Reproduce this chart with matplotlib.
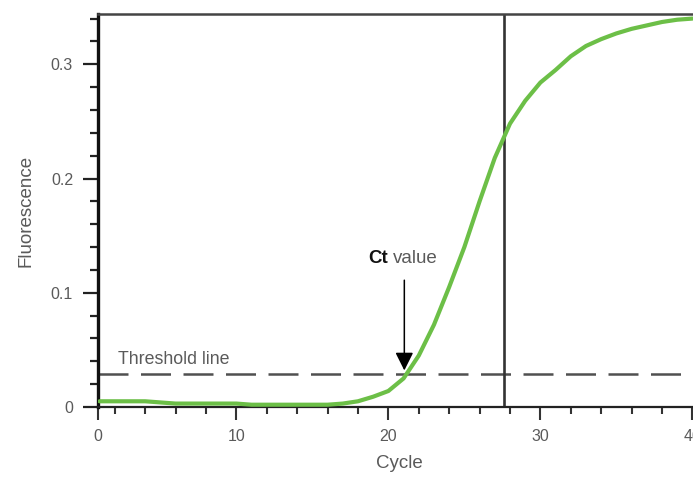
import matplotlib
matplotlib.use("Agg")
import matplotlib.pyplot as plt
from matplotlib.ticker import FixedLocator, FixedFormatter, MultipleLocator

plt.rcParams["font.family"] = ["Liberation Sans", "DejaVu Sans"]

# amplification curve
cycles = list(range(1, 41))
fluorescence = [
    0.005, 0.005, 0.005, 0.005, 0.004, 0.003, 0.003, 0.003, 0.003, 0.003,
    0.002, 0.002, 0.002, 0.002, 0.002, 0.002, 0.003, 0.005, 0.009, 0.014,
    0.025, 0.045, 0.072, 0.105, 0.140, 0.180, 0.218, 0.248, 0.268, 0.284,
    0.295, 0.307, 0.316, 0.322, 0.327, 0.331, 0.334, 0.337, 0.339, 0.340,
]
threshold = 0.029
ct_cycle = 21.05
marker_cycle = 27.6
x_ticks = [0.9, 10, 20, 30, 40]
x_tick_labels = ["0", "10", "20", "30", "40"]
y_ticks = [0, 0.1, 0.2, 0.3]
y_tick_labels = ["0", "0.1", "0.2", "0.3"]

GREEN = "#6cbf47"
GRAY_TEXT = "#5a5a5a"

fig = plt.figure(figsize=(6.93, 4.79), dpi=100)
ax = fig.add_axes([98 / 693, 72 / 479, 602 / 693, 393 / 479])

ax.plot(cycles, fluorescence, color=GREEN, lw=3.0, solid_capstyle="round",
        solid_joinstyle="round", zorder=3)

# threshold and marker lines
ax.axhline(threshold, color="#505050", lw=1.8, dashes=(12, 5), zorder=2)
ax.axvline(marker_cycle, color="#333333", lw=1.9, zorder=2)

ax.text(2.2, threshold + 0.005, "Threshold line", color=GRAY_TEXT, fontsize=12.8,
        va="bottom", ha="left")

ax.annotate("", xy=(ct_cycle, 0.032), xytext=(ct_cycle, 0.111),
            arrowprops=dict(arrowstyle="-|>,head_width=0.55,head_length=1.1",
                            color="black", lw=1.1, shrinkA=0, shrinkB=0))
ax.text(20.0, 0.130, "Ct", fontsize=13.5, fontweight="bold",
        color="#111111", ha="right", va="center")
ax.text(20.3, 0.130, "value", fontsize=13.5, color=GRAY_TEXT,
        ha="left", va="center")

ax.set_xlim(0.9, 40.5)
ax.set_ylim(0, 0.344)

ax.xaxis.set_major_locator(FixedLocator(x_ticks))
ax.xaxis.set_major_formatter(FixedFormatter(x_tick_labels))
ax.xaxis.set_minor_locator(MultipleLocator(2))
ax.yaxis.set_major_locator(FixedLocator(y_ticks))
ax.yaxis.set_major_formatter(FixedFormatter(y_tick_labels))
ax.yaxis.set_minor_locator(MultipleLocator(0.02))

ax.tick_params(axis="x", which="major", direction="out", length=9, width=1.5,
               color="#333333", labelcolor=GRAY_TEXT, labelsize=11.5, pad=7)
ax.tick_params(axis="x", which="minor", direction="out", length=5, width=1.5,
               color="#333333")
ax.tick_params(axis="y", which="major", direction="out", length=11, width=1.6,
               color="#222222", labelcolor=GRAY_TEXT, labelsize=11.5, pad=7)
ax.tick_params(axis="y", which="minor", direction="out", length=6, width=1.6,
               color="#222222")

ax.spines["right"].set_visible(False)
ax.spines["left"].set_linewidth(2.4)
ax.spines["left"].set_color("#111111")
ax.spines["bottom"].set_linewidth(1.6)
ax.spines["bottom"].set_color("#222222")
ax.spines["top"].set_linewidth(1.8)
ax.spines["top"].set_color("#444444")

ax.set_xlabel("Cycle", color=GRAY_TEXT, fontsize=13.5, labelpad=8)
ax.set_ylabel("Fluorescence", color=GRAY_TEXT, fontsize=13.5, labelpad=12)

fig.savefig("out.png", dpi=100)
